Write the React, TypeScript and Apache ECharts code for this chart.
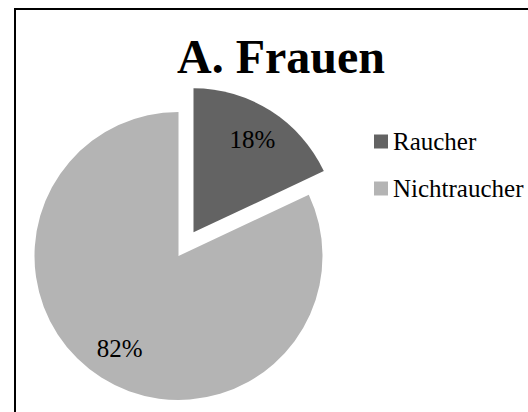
import React, { useEffect, useRef } from "react";
import * as echarts from "echarts";

const titleText = "A. Frauen";
const categories = ["Raucher", "Nichtraucher"];
const values = [18, 82];
const labels = ["18%", "82%"];
const colors = ["#636363", "#b4b4b4"];

const FONT = "'Liberation Serif', 'Times New Roman', serif";

export default function App() {
  const ref = useRef<HTMLDivElement>(null);
  useEffect(() => {
    if (!ref.current) return;
    const chart = echarts.init(ref.current, undefined, { renderer: "svg" });
    const mainData = categories.map((name, i) => ({
      name,
      value: values[i],
      selected: i === 0,
      itemStyle: { color: colors[i] },
    }));
    const ghostData = categories.map((name, i) => ({
      name,
      value: values[i],
      selected: i === 0,
      label: { formatter: labels[i] },
    }));
    chart.setOption({
      animation: false,
      backgroundColor: "#ffffff",
      title: {
        text: titleText,
        left: 172,
        top: 27,
        textStyle: {
          fontFamily: FONT,
          fontWeight: "bold",
          fontSize: 48,
          lineHeight: 48,
          color: "#000",
        },
      },
      legend: {
        orient: "vertical",
        left: 369,
        top: 124,
        itemWidth: 14,
        itemHeight: 14,
        itemGap: 22,
        icon: "rect",
        selectedMode: false,
        data: categories.map((name, i) => ({ name, itemStyle: { color: colors[i] } })),
        textStyle: { fontFamily: FONT, fontSize: 25, lineHeight: 25, color: "#000" },
      },
      graphic: [
        {
          type: "rect",
          shape: { x: 15, y: 9, width: 600, height: 500 },
          style: { fill: "none", stroke: "#000", lineWidth: 2 },
          silent: true,
        },
      ],
      series: [
        {
          type: "pie",
          center: [178.5, 256],
          radius: [0, 144],
          startAngle: 90,
          clockwise: true,
          selectedMode: "single",
          selectedOffset: 28,
          label: { show: false },
          labelLine: { show: false },
          emphasis: { disabled: true },
          data: mainData,
        },
        {
          type: "pie",
          silent: true,
          center: [178.5, 256],
          radius: [70, 144],
          startAngle: 90,
          clockwise: true,
          selectedMode: "single",
          selectedOffset: 28,
          itemStyle: { color: "rgba(0,0,0,0)" },
          label: {
            show: true,
            position: "inside",
            fontFamily: FONT,
            fontSize: 25,
            color: "#000",
          },
          labelLine: { show: false },
          emphasis: { disabled: true },
          data: ghostData,
        },
      ],
    });
    return () => chart.dispose();
  }, []);
  return (
    <div
      ref={ref}
      style={{ position: "absolute", left: 0, top: 0, width: 528, height: 412 }}
    />
  );
}
